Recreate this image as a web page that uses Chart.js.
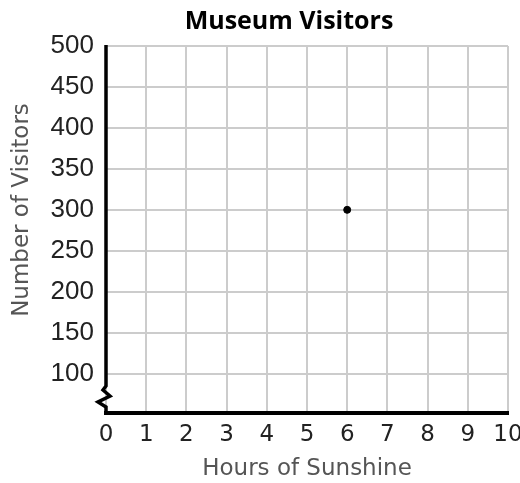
<!DOCTYPE html>
<html>
<head>
<meta charset="utf-8">
<title>Museum Visitors</title>
<script src="https://cdn.jsdelivr.net/npm/chart.js@4/dist/chart.umd.min.js"></script>
<style>
  html, body { margin: 0; padding: 0; background: #fff; }
  canvas { display: block; }
</style>
</head>
<body>
<canvas id="visitorsChart" width="520" height="483"></canvas>
<script>
// data
const hours = [6];
const visitors = [300];
const xTickValues = [0, 1, 2, 3, 4, 5, 6, 7, 8, 9, 10];
const yTickValues = [100, 150, 200, 250, 300, 350, 400, 450, 500];
const yMin = 52;
const yMax = 500;

const chartTitle = "Museum Visitors";
const xTitle = "Hours of Sunshine";
const yTitle = "Number of Visitors";

// y axis with a zigzag break near the bottom, plus the titles
const axisDecor = {
  id: "axisDecor",
  afterDraw(chart) {
    const ctx = chart.ctx;
    const area = chart.chartArea;
    const x0 = chart.scales.x.getPixelForValue(0);
    const b = area.bottom;

    ctx.save();
    ctx.strokeStyle = "#000";
    ctx.lineWidth = 3.5;
    ctx.lineJoin = "miter";
    ctx.beginPath();
    ctx.moveTo(x0, area.top - 1);
    ctx.lineTo(x0, b - 27);
    ctx.lineTo(x0 - 3, b - 23);
    ctx.lineTo(x0 + 4, b - 17);
    ctx.lineTo(x0 - 8, b - 11);
    ctx.lineTo(x0, b - 6);
    ctx.lineTo(x0, b + 2);
    ctx.stroke();

    // chart title
    ctx.fillStyle = "#000";
    ctx.font = "bold 25px 'Open Sans', sans-serif";
    ctx.textAlign = "center";
    ctx.textBaseline = "middle";
    ctx.fillText(chartTitle, 289, 22);

    // y axis title
    ctx.fillStyle = "#555";
    ctx.font = "23px 'DejaVu Sans', sans-serif";
    ctx.translate(22, 210);
    ctx.rotate(-Math.PI / 2);
    ctx.fillText(yTitle, 0, 0);
    ctx.restore();
  }
};

const ctx = document.getElementById("visitorsChart").getContext("2d");

new Chart(ctx, {
  type: "scatter",
  data: {
    datasets: [{
      data: hours.map((h, i) => ({ x: h, y: visitors[i] })),
      backgroundColor: "#000",
      borderColor: "#000",
      pointRadius: 3.5,
      pointHoverRadius: 3.5
    }]
  },
  options: {
    responsive: false,
    animation: false,
    layout: {
      padding: { top: 46, right: 12, bottom: 0, left: 0 }
    },
    plugins: {
      legend: { display: false },
      tooltip: { enabled: false },
      title: { display: false }
    },
    scales: {
      x: {
        type: "linear",
        min: 0,
        max: 10,
        afterBuildTicks: (scale) => {
          scale.ticks = xTickValues.map(v => ({ value: v }));
        },
        afterFit: (scale) => {
          scale.height = 70;
          scale.paddingLeft = 0;
          scale.paddingRight = 0;
        },
        grid: {
          color: "#cccccc",
          lineWidth: 2,
          drawTicks: false
        },
        border: { display: true, color: "#000", width: 4 },
        ticks: {
          color: "#222",
          padding: 8,
          maxRotation: 0,
          font: { family: "'DejaVu Sans', sans-serif", size: 23 }
        },
        title: {
          display: true,
          text: xTitle,
          color: "#555",
          padding: { top: 0, bottom: 0 },
          font: { family: "'DejaVu Sans', sans-serif", size: 23 }
        }
      },
      y: {
        type: "linear",
        min: yMin,
        max: yMax,
        afterBuildTicks: (scale) => {
          scale.ticks = yTickValues.map(v => ({ value: v }));
        },
        afterFit: (scale) => {
          scale.width = 106;
          scale.paddingTop = 0;
          scale.paddingBottom = 0;
        },
        grid: {
          color: "#cccccc",
          lineWidth: 2,
          drawTicks: false
        },
        border: { display: false },
        ticks: {
          color: "#222",
          padding: 12,
          font: { family: "'Liberation Sans', Arial, sans-serif", size: 26 }
        }
      }
    }
  },
  plugins: [axisDecor]
});
</script>
</body>
</html>
